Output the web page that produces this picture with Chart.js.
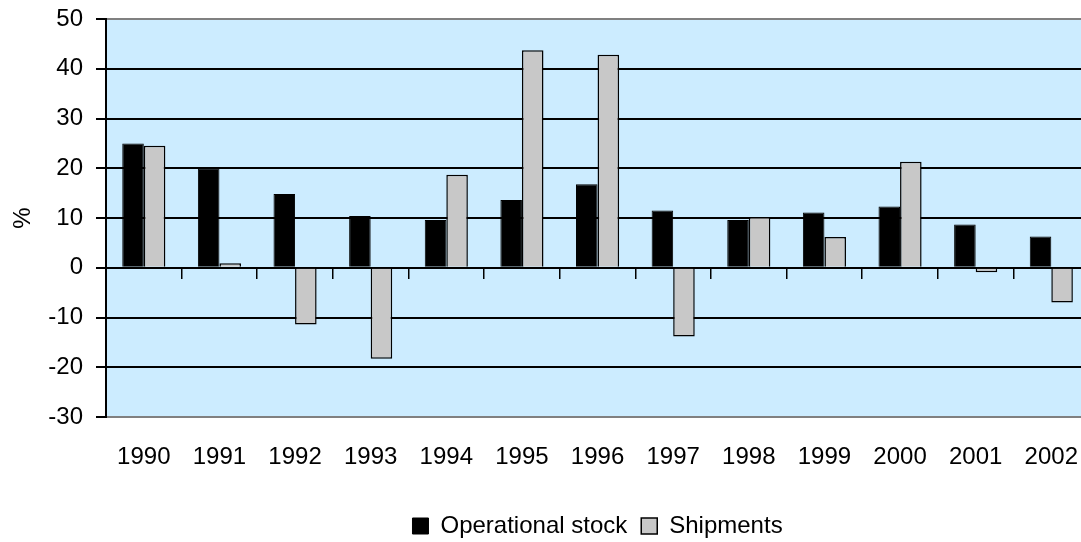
<!DOCTYPE html>
<html>
<head>
<meta charset="utf-8">
<script src="https://cdn.jsdelivr.net/npm/chart.js@4.4.1/dist/chart.umd.min.js"></script>
<style>
  html, body { margin: 0; padding: 0; background: #fff; overflow: hidden; }
  canvas { display: block; }
</style>
</head>
<body>
<canvas id="stockChart" width="1096" height="548"></canvas>
<script>
// DATA
const years = ['1990', '1991', '1992', '1993', '1994', '1995', '1996', '1997', '1998', '1999', '2000', '2001', '2002'];
const operationalStock = [25.0, 20.0, 14.8, 10.4, 9.6, 13.6, 16.8, 11.5, 9.6, 11.1, 12.3, 8.7, 6.3];
const shipments = [24.5, 0.9, -11.4, -18.3, 18.7, 43.7, 42.8, -13.8, 10.2, 6.2, 21.3, -0.9, -7.0];
const yTicks = { min: -30, max: 50, step: 10 };

const FONT = { family: '"Liberation Sans", Arial, sans-serif', size: 24 };

// plot background
const plotBg = {
    id: 'plotBg',
    beforeDraw(chart) {
        const a = chart.chartArea, ctx = chart.ctx;
        ctx.save();
        ctx.fillStyle = '#CCECFF';
        ctx.fillRect(a.left, a.top, a.right - a.left, a.bottom - a.top);
        ctx.restore();
    }
};

const chart = new Chart(document.getElementById('stockChart'), {
    type: 'bar',
    data: {
        labels: years,
        datasets: [{
            label: 'Operational stock',
            data: operationalStock,
            backgroundColor: '#000000',
            borderColor: '#000000',
            borderWidth: 1,
            xAxisID: 'x'
        }, {
            label: 'Shipments',
            data: shipments,
            backgroundColor: '#C8C8C8',
            borderColor: '#000000',
            borderWidth: 1.5,
            xAxisID: 'x'
        }]
    },
    options: {
        responsive: false,
        animation: false,
        layout: { padding: { top: 19, bottom: 0, right: 0 } },
        datasets: { bar: { categoryPercentage: 0.57, barPercentage: 1.0 } },
        plugins: {
            legend: {
                position: 'bottom',
                fullSize: false,
                labels: {
                    font: FONT,
                    color: '#000',
                    boxWidth: 16,
                    boxHeight: 16,
                    padding: 14,
                    useBorderRadius: false
                }
            },
            tooltip: { enabled: false }
        },
        scales: {
            x: {
                type: 'category',
                position: 'bottom',
                grid: { display: false },
                border: { display: true, color: '#808080', width: 2 },
                ticks: { font: FONT, color: '#000', padding: 18, maxRotation: 0, autoSkip: false },
                afterFit(scale) { scale.height = 83; }
            },
            xZero: {
                type: 'category',
                position: { y: 0 },
                grid: { offset: true, drawOnChartArea: false, drawTicks: true, tickLength: 10, color: '#000', lineWidth: 1.5 },
                border: { display: true, color: '#000', width: 2 },
                ticks: { display: false }
            },
            y: {
                min: yTicks.min,
                max: yTicks.max,
                ticks: { stepSize: yTicks.step, font: FONT, color: '#000', padding: 13 },
                grid: {
                    color: ctx => (ctx.tick && (ctx.tick.value === yTicks.max || ctx.tick.value === yTicks.min)) ? '#808080' : '#000',
                    lineWidth: 2,
                    drawTicks: true,
                    tickLength: 10,
                    tickColor: '#000'
                },
                border: { display: true, color: '#000', width: 2 },
                title: { display: true, text: '%', font: FONT, color: '#000', padding: { top: 9, bottom: 0 } },
                afterFit(scale) {
                    scale.width = 106;
                    scale.paddingTop = 0;
                    scale.paddingBottom = 0;
                }
            }
        }
    },
    plugins: [plotBg]
});
</script>
</body>
</html>
